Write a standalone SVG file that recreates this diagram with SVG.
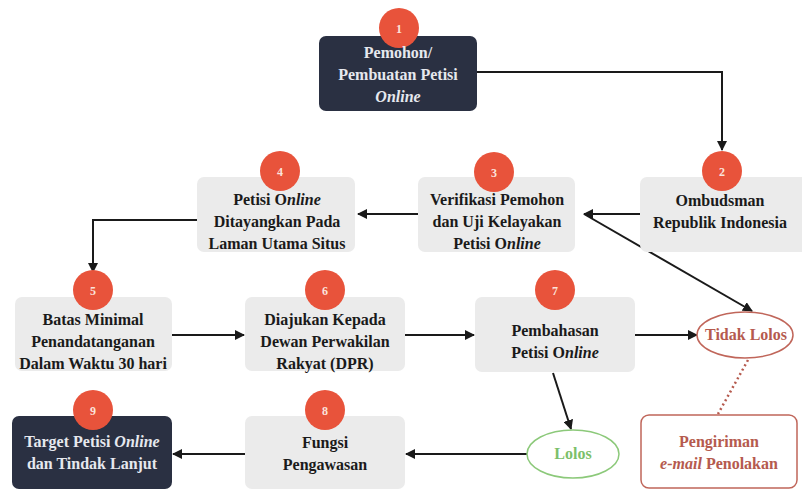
<svg xmlns="http://www.w3.org/2000/svg" width="802" height="491" viewBox="0 0 802 491">
<defs>
<style>
.dark{fill:#2a3042;}
.light{fill:#ebebeb;}
.num{fill:#e8533b;}
.numt{fill:#fbe3dc;font:bold 12px "Liberation Serif",serif;text-anchor:middle;}
.t{font:bold 16px "Liberation Serif",serif;text-anchor:middle;fill:#1a1a1a;}
.tw{font:bold 16px "Liberation Serif",serif;text-anchor:middle;fill:#e6e8ee;}
.red{font:bold 16px "Liberation Serif",serif;text-anchor:middle;fill:#b55a4e;}
.grn{font:bold 16px "Liberation Serif",serif;text-anchor:middle;fill:#7cbf6a;}
.i{font-style:italic;}
.c{fill:none;stroke:#1a1a1a;stroke-width:2;}
</style>
<marker id="ah" viewBox="0 0 10 10" refX="9" refY="5" markerWidth="5" markerHeight="5" orient="auto">
<path d="M0,0 L10,5 L0,10 z" fill="#1a1a1a"/>
</marker>
</defs>
<rect width="802" height="491" fill="#ffffff"/>
<g id="connectors">
<path class="c" d="M477,72 H722 V150" marker-end="url(#ah)"/>
<path class="c" d="M640,214 H584" marker-end="url(#ah)"/>
<path class="c" d="M584,214 L752,311" marker-end="url(#ah)"/>
<path class="c" d="M418,214 H358" marker-end="url(#ah)"/>
<path class="c" d="M197,220 H93 V272" marker-end="url(#ah)"/>
<path class="c" d="M172,335 H244" marker-end="url(#ah)"/>
<path class="c" d="M405,335 H474" marker-end="url(#ah)"/>
<path class="c" d="M635,335 H697" marker-end="url(#ah)"/>
<path class="c" d="M553,373 L571,429" marker-end="url(#ah)"/>
<path class="c" d="M527,454 H406" marker-end="url(#ah)"/>
<path class="c" d="M245,454 H173" marker-end="url(#ah)"/>
<path d="M748,360 L718,414" fill="none" stroke="#b55a4e" stroke-width="2.5" stroke-dasharray="2,3"/>
</g>
<g id="node1">
<rect class="dark" x="319" y="36" width="158" height="75" rx="7"/>
<circle class="num" cx="399" cy="28" r="20"/>
<text class="numt" x="399" y="33">1</text>
<text class="tw" x="398" y="58">Pemohon/</text>
<text class="tw" x="398" y="80">Pembuatan Petisi</text>
<text class="tw" x="398" y="102"><tspan class="i">Online</tspan></text>
</g>
<g id="node2">
<rect class="light" x="640" y="177" width="170" height="75" rx="7"/>
<circle class="num" cx="722" cy="171" r="20"/>
<text class="numt" x="722" y="176">2</text>
<text class="t" x="720" y="206">Ombudsman</text>
<text class="t" x="720" y="228">Republik Indonesia</text>
</g>
<g id="node3">
<rect class="light" x="418" y="177" width="157" height="75" rx="7"/>
<circle class="num" cx="494" cy="172" r="20"/>
<text class="numt" x="494" y="177">3</text>
<text class="t" x="497" y="205">Verifikasi Pemohon</text>
<text class="t" x="497" y="227">dan Uji Kelayakan</text>
<text class="t" x="497" y="249">Petisi O<tspan class="i">nline</tspan></text>
</g>
<g id="node4">
<rect class="light" x="197" y="177" width="158" height="75" rx="7"/>
<circle class="num" cx="280" cy="171" r="20"/>
<text class="numt" x="280" y="176">4</text>
<text class="t" x="277" y="205">Petisi O<tspan class="i">nline</tspan></text>
<text class="t" x="277" y="227">Ditayangkan Pada</text>
<text class="t" x="277" y="249">Laman Utama Situs</text>
</g>
<g id="node5">
<rect class="light" x="15" y="297" width="157" height="74" rx="7"/>
<circle class="num" cx="93" cy="290" r="20"/>
<text class="numt" x="93" y="295">5</text>
<text class="t" x="93" y="325">Batas Minimal</text>
<text class="t" x="93" y="347">Penandatanganan</text>
<text class="t" x="93" y="369">Dalam Waktu 30 hari</text>
</g>
<g id="node6">
<rect class="light" x="245" y="297" width="160" height="74" rx="7"/>
<circle class="num" cx="325" cy="290" r="20"/>
<text class="numt" x="325" y="295">6</text>
<text class="t" x="325" y="325">Diajukan Kepada</text>
<text class="t" x="325" y="347">Dewan Perwakilan</text>
<text class="t" x="325" y="369">Rakyat (DPR)</text>
</g>
<g id="node7">
<rect class="light" x="475" y="297" width="160" height="75" rx="7"/>
<circle class="num" cx="555" cy="290" r="20"/>
<text class="numt" x="555" y="295">7</text>
<text class="t" x="555" y="336">Pembahasan</text>
<text class="t" x="555" y="358">Petisi O<tspan class="i">nline</tspan></text>
</g>
<g id="tidak-lolos">
<ellipse cx="745" cy="335" rx="48" ry="23" fill="#ffffff" stroke="#c0665a" stroke-width="1.5"/>
<text class="red" x="746" y="340">Tidak Lolos</text>
</g>
<g id="pengiriman">
<rect x="641" y="415" width="156" height="73" rx="8" fill="#ffffff" stroke="#c0665a" stroke-width="1.5"/>
<text class="red" x="719" y="447">Pengiriman</text>
<text class="red" x="719" y="469"><tspan class="i">e-mail</tspan> Penolakan</text>
</g>
<g id="lolos">
<ellipse cx="573" cy="454" rx="46" ry="24" fill="#ffffff" stroke="#8cc97a" stroke-width="1.5"/>
<text class="grn" x="573" y="459">Lolos</text>
</g>
<g id="node8">
<rect class="light" x="245" y="416" width="160" height="73" rx="7"/>
<circle class="num" cx="325" cy="410" r="20"/>
<text class="numt" x="325" y="415">8</text>
<text class="t" x="325" y="448">Fungsi</text>
<text class="t" x="325" y="470">Pengawasan</text>
</g>
<g id="node9">
<rect class="dark" x="12" y="416" width="160" height="73" rx="7"/>
<circle class="num" cx="93" cy="410" r="20"/>
<text class="numt" x="93" y="415">9</text>
<text class="tw" x="92" y="447">Target Petisi <tspan class="i">Online</tspan></text>
<text class="tw" x="92" y="469">dan Tindak Lanjut</text>
</g>
</svg>
